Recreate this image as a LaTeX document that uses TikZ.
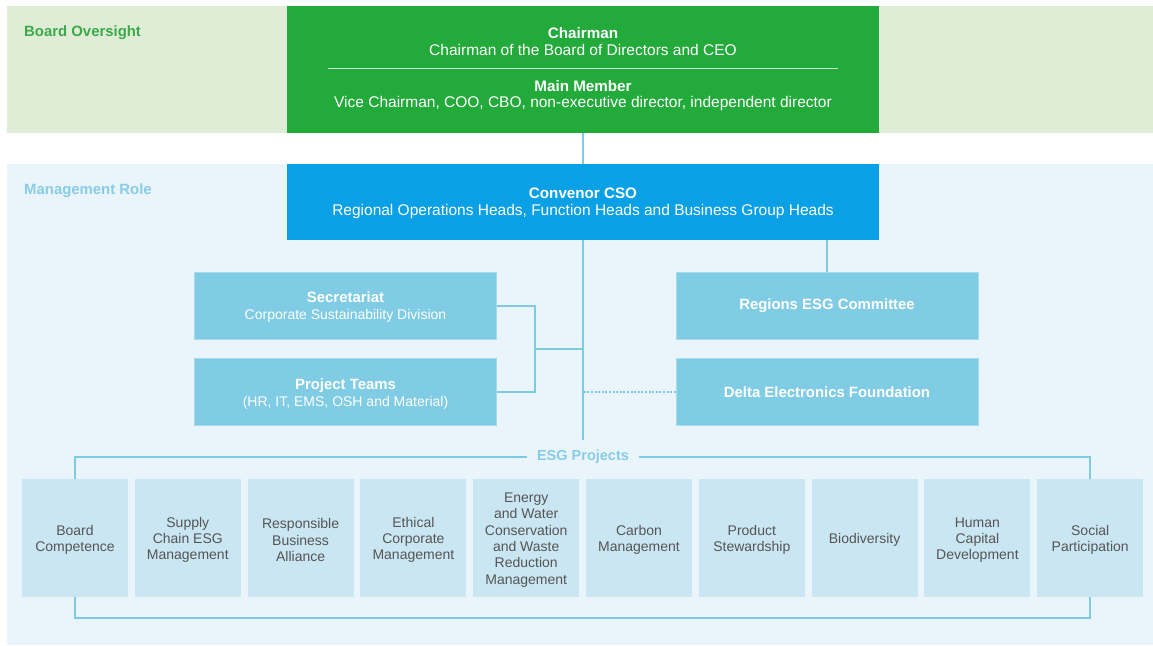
\documentclass[tikz,border=0pt]{standalone}
\usepackage{fontspec}
\setmainfont{Liberation Sans}
\definecolor{bandG}{HTML}{E0EDD6}
\definecolor{boxG}{HTML}{22AA3A}
\definecolor{txtG}{HTML}{3BAA4A}
\definecolor{bandB}{HTML}{EAF5FB}
\definecolor{boxB}{HTML}{0AA0E6}
\definecolor{txtB}{HTML}{88CCE8}
\definecolor{boxM}{HTML}{7FCCE4}
\definecolor{boxL}{HTML}{C9E6F2}
\definecolor{lineC}{HTML}{7ECBE3}
\definecolor{txtD}{HTML}{555555}
\newcommand{\bigtitle}{\fontsize{15.2}{18}\selectfont\bfseries}
\newcommand{\bigsub}{\fontsize{15.5}{18}\selectfont}
\newcommand{\midtitle}{\fontsize{14.9}{17}\selectfont\bfseries}
\begin{document}
\begin{tikzpicture}[x=1pt,y=-1pt,
  every node/.style={font=\fontsize{14}{17}\selectfont, inner sep=0pt},
  bigbox/.style={rectangle, minimum width=592pt},
  wtxt/.style={text=white, align=center},
  midbox/.style={rectangle, fill=boxM, draw=boxM!70!white, line width=0.6pt, minimum width=302pt, minimum height=67pt},
  esgbox/.style={rectangle, fill=boxL, minimum width=106pt, minimum height=118pt},
  esgtxt/.style={text=txtD, align=center, font=\fontsize{14}{16.3}\selectfont},
  conn/.style={draw=lineC, line width=2pt},
  bandlabel/.style={anchor=west, font=\fontsize{14.9}{17}\selectfont\bfseries}
]
\useasboundingbox (0,0) rectangle (1153,645);
% bands
\fill[bandG] (7,6) rectangle (1153,133);
\fill[bandB] (7,164) rectangle (1153,645);
\node[bandlabel, text=txtG] (lbo) at (24,33) {Board Oversight};
\node[bandlabel, text=txtB] (lmr) at (24,191) {Management Role};
% board box
\node[bigbox, fill=boxG, minimum height=127pt] (board) at (583,69.5) {};
\node[wtxt, font=\bigtitle] (ch1) at (583,33) {Chairman};
\node[wtxt, font=\bigsub] (ch2) at (583,50) {Chairman of the Board of Directors and CEO};
\draw[white!75!boxG, line width=1pt] (328,68) -- (838,68);
\node[wtxt, font=\bigtitle] (mm1) at (583,86) {Main Member};
\node[wtxt, font=\bigsub] (mm2) at (583,103) {Vice Chairman, COO, CBO, non-executive director, independent director};
% CSO box
\node[bigbox, fill=boxB, minimum height=76pt] (cso) at (583,202) {};
\node[wtxt, font=\bigtitle] (cso1) at (583,193) {Convenor CSO};
\node[wtxt, font=\bigsub] (cso2) at (583,211) {Regional Operations Heads, Function Heads and Business Group Heads};
% middle boxes
\node[midbox] (sec) at (345.5,305.5) {};
\node[wtxt] (secT) at ([yshift=-2pt]sec.center) {{\midtitle Secretariat}\\Corporate Sustainability Division};
\node[midbox] (pt) at (345.5,392) {};
\node[wtxt] (ptT) at ([yshift=-2pt]pt.center) {{\midtitle Project Teams}\\(HR, IT, EMS, OSH and Material)};
\node[midbox] (reg) at (827,305.5) {};
\node[wtxt, font=\midtitle] (regT) at (reg.center) {Regions ESG Committee};
\node[midbox] (del) at (827,392) {};
\node[wtxt, font=\midtitle] (delT) at (del.center) {Delta Electronics Foundation};
% ESG boxes
\foreach \i/\x/\t in {1/75/{Board\\Competence},
                      2/187.8/{Supply\\Chain ESG\\Management},
                      3/300.6/{Responsible\\Business\\Alliance},
                      4/413.4/{Ethical\\Corporate\\Management},
                      5/526.2/{Energy\\and Water\\Conservation\\and Waste\\Reduction\\Management},
                      6/639/{Carbon\\Management},
                      7/751.8/{Product\\Stewardship},
                      8/864.6/{Biodiversity},
                      9/977.4/{Human\\Capital\\Development},
                      10/1090.2/{Social\\Participation}}{
  \node[esgbox] (e\i) at (\x,538) {};
  \node[esgtxt] (e\i T) at ([yshift=-2pt]e\i.center) {\t};
}
\node[fill=bandB, text=txtB, inner xsep=10pt, inner ysep=3pt, font=\fontsize{14.5}{17}\selectfont\bfseries] (esgl) at (583,457) {\raisebox{-2pt}{ESG Projects}};
% connectors
\coordinate (esgtop) at (583,440);
\coordinate (brk) at (535,349);
\coordinate (bot) at (75,618);
\draw[conn] (board.south) -- (cso.north);
\draw[conn] (cso.south) -- (esgtop);
\draw[conn] (cso.south -| reg.north) -- (reg.north);
\draw[conn] (sec.east) -| (brk) |- (pt.east);
\draw[conn] (brk) -- (brk -| cso.south);
\draw[draw=lineC, line width=2pt, dash pattern=on 2pt off 1.6pt] (del.west) -- (del.west -| cso.south);
\draw[conn] (e1.north) |- (esgl.west);
\draw[conn] (e10.north) |- (esgl.east);
\draw[conn] (e1.south) -- (bot) -| (e10.south);
\end{tikzpicture}
\end{document}
